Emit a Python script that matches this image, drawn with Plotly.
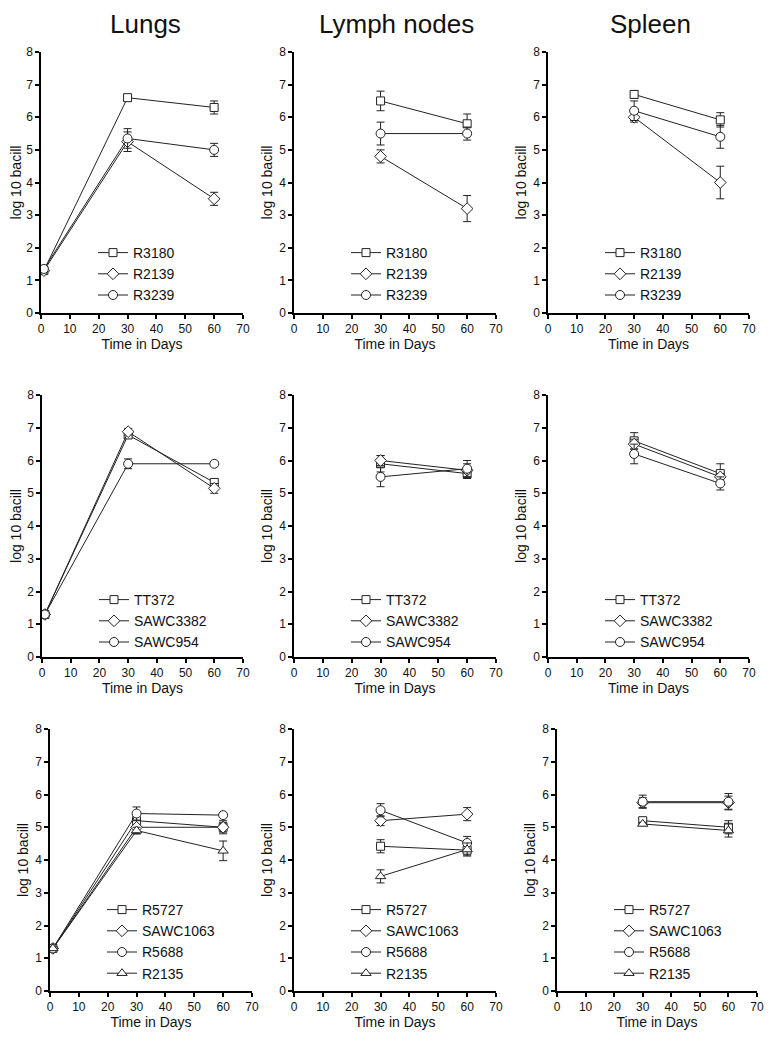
import plotly.graph_objects as go
from plotly.subplots import make_subplots

# ---- data ----
organs = ["Lungs", "Lymph nodes", "Spleen"]
x_title = "Time in Days"
y_title = "log 10 bacill"

row1_strains = ["R3180", "R2139", "R3239"]
row2_strains = ["TT372", "SAWC3382", "SAWC954"]
row3_strains = ["R5727", "SAWC1063", "R5688", "R2135"]

lungs_days = [1, 30, 60]
other_days = [30, 60]

# row 1
lungs1_vals = [[1.3, 6.6, 6.3], [1.3, 5.25, 3.5], [1.35, 5.35, 5.0]]
lungs1_errs = [[0.05, 0.1, 0.2], [0.05, 0.3, 0.2], [0.05, 0.3, 0.2]]
nodes1_vals = [[6.5, 5.8], [4.8, 3.2], [5.5, 5.5]]
nodes1_errs = [[0.3, 0.3], [0.2, 0.4], [0.35, 0.2]]
spleen1_vals = [[6.7, 5.92], [6.0, 4.0], [6.2, 5.4]]
spleen1_errs = [[0.12, 0.22], [0.15, 0.5], [0.3, 0.35]]

# row 2
lungs2_vals = [[1.3, 6.78, 5.33], [1.3, 6.88, 5.15], [1.3, 5.9, 5.9]]
lungs2_errs = [[0.05, 0.1, 0.1], [0.05, 0.1, 0.15], [0.05, 0.15, 0.05]]
nodes2_vals = [[5.9, 5.6], [6.0, 5.7], [5.5, 5.75]]
nodes2_errs = [[0.25, 0.15], [0.15, 0.2], [0.3, 0.25]]
spleen2_vals = [[6.6, 5.6], [6.5, 5.5], [6.2, 5.3]]
spleen2_errs = [[0.25, 0.3], [0.15, 0.1], [0.3, 0.2]]

# row 3
lungs3_vals = [[1.3, 5.2, 5.0], [1.3, 5.0, 5.0], [1.3, 5.42, 5.37], [1.3, 4.9, 4.28]]
lungs3_errs = [[0.05, 0.2, 0.2], [0.05, 0.2, 0.15], [0.05, 0.2, 0.05], [0.05, 0.1, 0.3]]
nodes3_vals = [[4.42, 4.3], [5.2, 5.4], [5.52, 4.52], [3.5, 4.32]]
nodes3_errs = [[0.2, 0.15], [0.15, 0.2], [0.2, 0.2], [0.2, 0.2]]
spleen3_vals = [[5.2, 5.0], [5.75, 5.75], [5.78, 5.78], [5.1, 4.9]]
spleen3_errs = [[0.05, 0.2], [0.15, 0.2], [0.2, 0.25], [0.05, 0.2]]

symbols = ["square", "diamond", "circle", "triangle-up"]
sizes = [8, 9, 9, 9]

# the page body has an 8px margin, so the figure is drawn 8px smaller and shifted
OFF = 8
W, H = 774 - OFF, 1041 - OFF
# panel frames in window pixels (x0, x1, ytop, ybottom)
frames = [
    [(41, 243, 52, 313), (294, 496, 52, 313), (548, 749, 52, 313)],
    [(42, 243, 395, 657), (294, 496, 395, 657), (548, 749, 395, 657)],
    [(50, 252, 729, 991), (294, 496, 729, 991), (557, 757, 729, 991)],
]
legend_top = [237, 584, 894]


def px_x(v):
    return (v - OFF) / W


def px_y(v):
    return 1 - (v - OFF) / H


panels = [
    [(lungs_days, lungs1_vals, lungs1_errs), (other_days, nodes1_vals, nodes1_errs), (other_days, spleen1_vals, spleen1_errs)],
    [(lungs_days, lungs2_vals, lungs2_errs), (other_days, nodes2_vals, nodes2_errs), (other_days, spleen2_vals, spleen2_errs)],
    [(lungs_days, lungs3_vals, lungs3_errs), (other_days, nodes3_vals, nodes3_errs), (other_days, spleen3_vals, spleen3_errs)],
]
strains = [row1_strains, row2_strains, row3_strains]

FONT = "Arial, Liberation Sans, sans-serif"
INK = "#222222"

fig = make_subplots(rows=3, cols=3)

n = 0
for r in range(3):
    for c in range(3):
        n += 1
        days, vals, errs = panels[r][c]
        leg = "legend" if n == 1 else "legend%d" % n
        for k, name in enumerate(strains[r]):
            fig.add_trace(go.Scatter(
                x=days, y=vals[k], name=name, mode="lines+markers",
                line=dict(color=INK, width=1),
                marker=dict(symbol=symbols[k], size=sizes[k], color="white",
                            line=dict(color=INK, width=1)),
                error_y=dict(type="data", array=errs[k], color=INK, thickness=1, width=4),
                legend=leg,
            ), row=r + 1, col=c + 1)

        x0, x1, yt, yb = frames[r][c]
        sfx = "" if n == 1 else str(n)
        fig.layout["xaxis" + sfx].update(domain=[px_x(x0), px_x(x1)])
        fig.layout["yaxis" + sfx].update(domain=[px_y(yb), px_y(yt)])
        fig.layout[leg] = dict(
            x=px_x(x0 + 52), y=px_y(legend_top[r]), xanchor="left", yanchor="top",
            bgcolor="rgba(0,0,0,0)", font=dict(family=FONT, size=14, color="#111"),
            itemwidth=30, tracegroupgap=0,
        )

fig.update_xaxes(range=[0, 70], dtick=10, showgrid=False, zeroline=False,
                 showline=True, linecolor="black", linewidth=1.5,
                 ticks="outside", ticklen=4, tickwidth=1.5, tickcolor="black",
                 tickfont=dict(family=FONT, size=12, color="#111"), automargin=False,
                 title=dict(text=x_title, font=dict(family=FONT, size=14, color="#111"), standoff=0))
fig.update_yaxes(range=[0, 8], dtick=1, showgrid=False, zeroline=False,
                 showline=True, linecolor="black", linewidth=1.5,
                 ticks="outside", ticklen=4, tickwidth=1.5, tickcolor="black",
                 tickfont=dict(family=FONT, size=12, color="#111"), automargin=False,
                 title=dict(text=y_title, font=dict(family=FONT, size=14, color="#111"), standoff=3))

title_x = [145, 396, 650]
for c, organ in enumerate(organs):
    fig.add_annotation(text=organ, x=px_x(title_x[c]), y=1, xref="paper", yref="paper",
                       xanchor="center", yanchor="top", showarrow=False, borderpad=0,
                       font=dict(family=FONT, size=26, color="#111"))

fig.update_layout(width=W, height=H, margin=dict(l=0, r=0, t=0, b=0, autoexpand=False),
                  plot_bgcolor="white", paper_bgcolor="white", showlegend=True)

fig.write_html("out.html")
